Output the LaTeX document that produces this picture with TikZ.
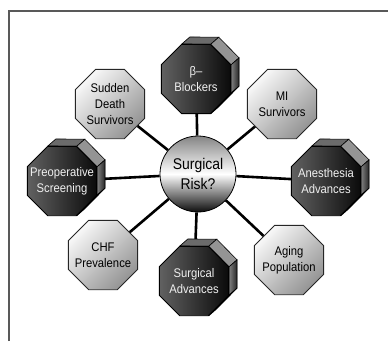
\documentclass[tikz,border=0pt]{standalone}
\usepackage{fontspec}
\setmainfont{Liberation Sans}
\newfontfamily\narrowsf[FakeStretch=0.9]{Liberation Sans}
\usetikzlibrary{shapes.geometric,calc}

\pgfdeclarelayer{links}
\pgfdeclarelayer{slabs}
\pgfsetlayers{links,slabs,main}

\tikzset{every picture/.style={line width=0.75pt}}
\tikzset{
  octa/.style={regular polygon, regular polygon sides=8, minimum size=75pt, inner sep=0pt},
  octtext/.style={align=center, inner sep=0pt, font=\narrowsf\fontsize{12.5}{16}\selectfont},
  lightoct/.style={octa, draw=black!85, line width=0.8pt,
    top color=black!3, bottom color=black!42, shading angle=45,
    label={[octtext]center:#1}},
  darkoct/.style={octa, draw=black, line width=0.8pt,
    left color=black!62, right color=black!96,
    label={[octtext, text=black!6]center:#1}},
  hub/.style={circle, minimum size=76pt, inner sep=0pt, draw=black, line width=0.8pt,
    top color=black!48, bottom color=black!95, middle color=white,
    align=center, font=\narrowsf\fontsize{15.5}{20}\selectfont},
  link/.style={line width=2.6pt},
  frame/.style={draw=black!65, line width=1.3pt},
  face/.style={draw=black, line width=0.6pt},
}

% extruded sides of a dark octagon (up and to the right)
\newcommand{\slab}[1]{%
  \filldraw[face, fill=black!58] (#1.112.5) -- (#1.67.5) -- ($(#1.67.5)+(8,-7)$) -- ($(#1.112.5)+(8,-7)$) -- cycle;
  \filldraw[face, fill=black!42] (#1.67.5) -- (#1.22.5) -- ($(#1.22.5)+(8,-7)$) -- ($(#1.67.5)+(8,-7)$) -- cycle;
  \filldraw[face, left color=black!50, right color=black!85] (#1.22.5) -- (#1.-22.5) -- ($(#1.-22.5)+(8,-7)$) -- ($(#1.22.5)+(8,-7)$) -- cycle;
  \filldraw[face, fill=black!80] (#1.-22.5) -- (#1.-67.5) -- ($(#1.-67.5)+(8,-7)$) -- ($(#1.-22.5)+(8,-7)$) -- cycle;
}

\begin{document}
\begin{tikzpicture}[x=1pt,y=1pt,yscale=-1]
  \useasboundingbox (0,0) rectangle (388,341);

  %Straight Lines: frame
  \draw[frame] (9,341) -- (9,11) -- (388,11);

  %Shape: Circle
  \node[hub] (risk) at (198,174) {Surgical\\Risk?};

  %Shape: Octagon
  \node[darkoct={β–\\Blockers}] (blk) at (196,79) {};
  \node[lightoct={MI\\Survivors}] (mis) at (282,104) {};
  \node[lightoct={Sudden\\Death\\Survivors}] (sds) at (110,104) {};
  \node[darkoct={Preoperative\\Screening}] (pre) at (62,181) {};
  \node[darkoct={Anesthesia\\Advances}] (ane) at (326,181) {};
  \node[lightoct={CHF\\Prevalence}] (chf) at (103,255) {};
  \node[darkoct={Surgical\\Advances}] (sad) at (194,281) {};
  \node[lightoct={Aging\\Population}] (agp) at (289,260) {};

  \begin{pgfonlayer}{slabs}
    \foreach \n in {blk,pre,ane,sad} {\slab{\n}}
  \end{pgfonlayer}

  %Straight Lines
  \begin{pgfonlayer}{links}
    \foreach \n in {blk,mis,sds,pre,ane,chf,sad,agp}
      \draw[link] (risk) -- (\n);
  \end{pgfonlayer}

\end{tikzpicture}
\end{document}
